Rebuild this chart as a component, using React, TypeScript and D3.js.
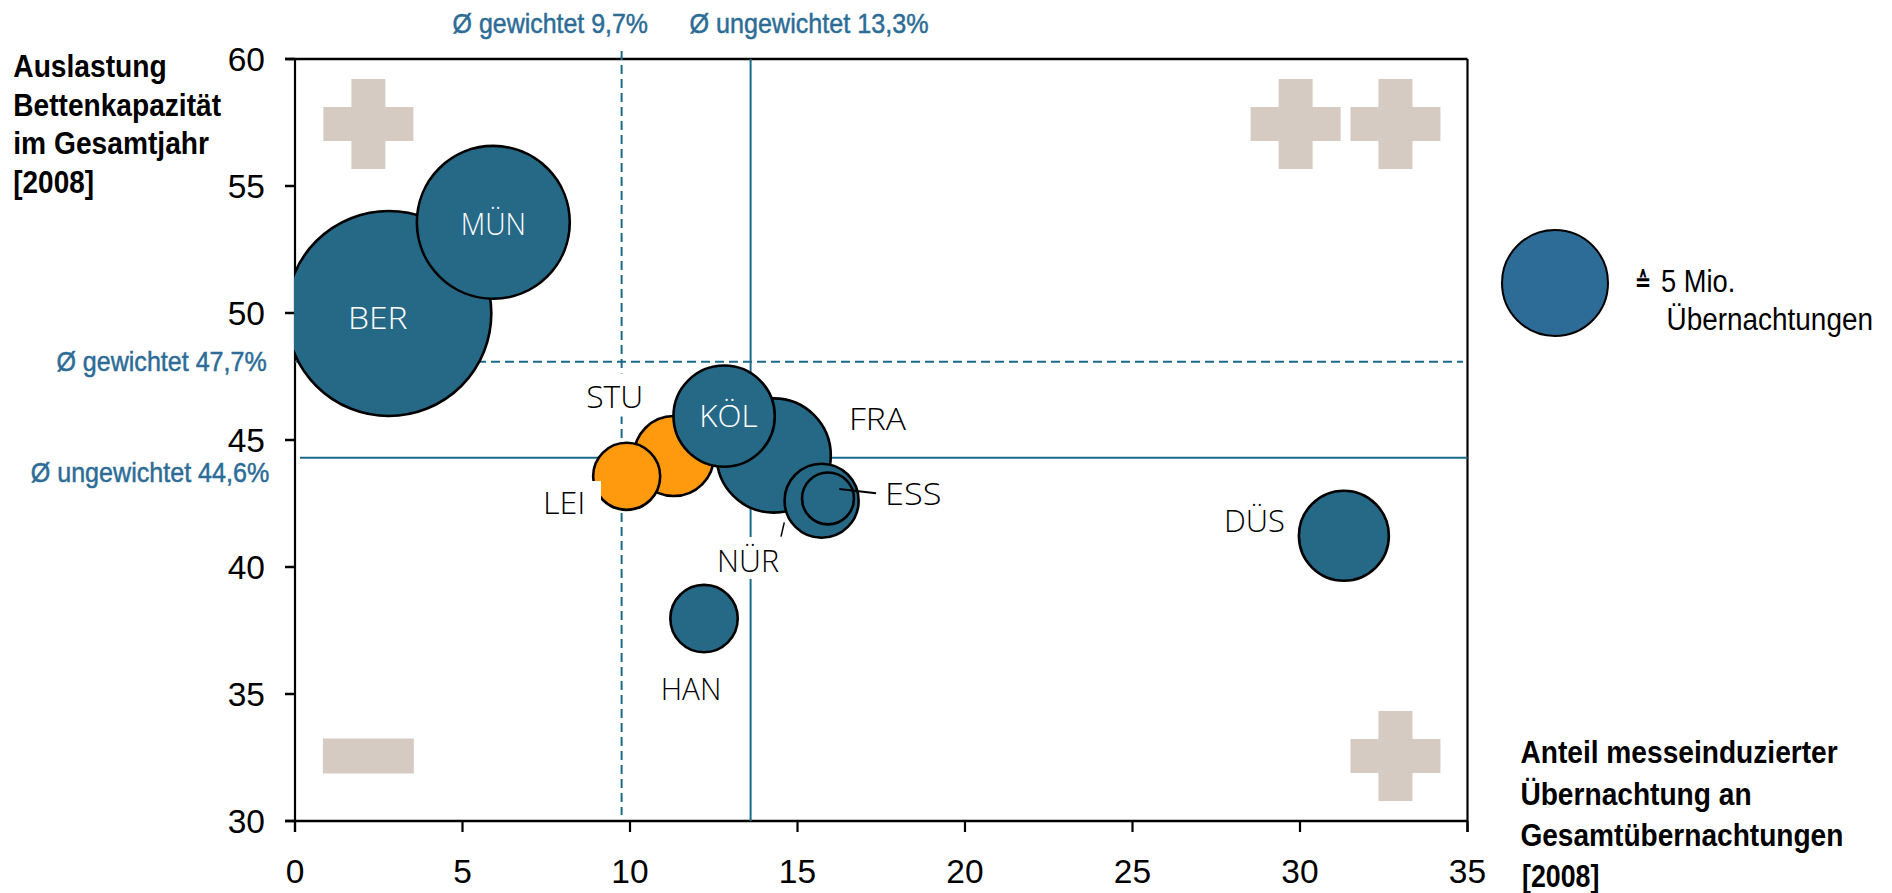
import React from "react";
import * as d3 from "d3";

const bubbleCities = ["BER", "MÜN", "FRA", "STU", "LEI", "KÖL", "NÜR", "ESS", "HAN", "DÜS"];
const bubbleShare = [2.8, 5.92, 14.29, 11.31, 9.9, 12.81, 15.72, 15.91, 12.21, 31.31];
const bubbleLoad = [49.98, 53.57, 44.39, 44.37, 43.57, 45.94, 42.61, 42.7, 37.97, 41.23];
const bubbleNights = [18.7, 10.4, 5.8, 2.85, 2.0, 4.57, 2.44, 1.2, 2.02, 3.6];
const orangeCities = ["STU", "LEI"];
const xTicks = [0, 5, 10, 15, 20, 25, 30, 35];
const yTicks = [30, 35, 40, 45, 50, 55, 60];
const plusMarks = [[2.19, 57.44], [29.87, 57.44], [32.85, 57.44], [32.85, 32.56]];
const minusMarks = [[2.19, 32.56]];
const avgWeighted = { share: 9.75, load: 48.08 };
const avgPlain = { share: 13.6, load: 44.3 };

const cityText: [string, number, number, number][] = [
  ["STU", 586.2, 643.3, 408.3],
  ["FRA", 849, 906, 430],
  ["LEI", 543, 585.5, 514.3],
  ["ESS", 885, 941.5, 505],
  ["NÜR", 717, 779, 571.7],
  ["HAN", 660.7, 721.3, 700],
  ["DÜS", 1224, 1285, 531.7],
];
const cityTextWhite: [string, number, number, number][] = [
  ["BER", 348, 407.5, 329.3],
  ["MÜN", 460.7, 526, 234.7],
  ["KÖL", 699.3, 757.5, 427.3],
];
const titleText: [string, number, number, number][] = [
  ["Auslastung", 13.3, 166.7, 77],
  ["Bettenkapazität", 13.3, 221, 115.7],
  ["im Gesamtjahr", 13.3, 209, 154.3],
  ["[2008]", 13.3, 94, 193],
  ["Anteil messeinduzierter", 1520.4, 1837.7, 763.3],
  ["Übernachtung an", 1520.4, 1751.6, 805],
  ["Gesamtübernachtungen", 1520.4, 1843.4, 846],
  ["[2008]", 1522, 1599.4, 887.3],
];
const avgText: [string, number, number, number][] = [
  ["Ø gewichtet 9,7%", 452.6, 648, 33.3],
  ["Ø ungewichtet 13,3%", 689.5, 928.5, 33.3],
  ["Ø gewichtet 47,7%", 56.4, 266.7, 370.7],
  ["Ø ungewichtet 44,6%", 30.7, 269.3, 482.3],
];
const legendText: [string, number, number, number][] = [
  ["5 Mio.", 1661, 1735.3, 291.7],
  ["Übernachtungen", 1666.5, 1873, 330],
];

const sans = "'Liberation Sans',Arial,sans-serif";
const open = "'Open Sans','Noto Sans',sans-serif";
const teal = "#266987";
const lineTeal = "#1C6A8B";
const labelBlue = "#2C6C96";
const sand = "#D5CBC3";

function Fit({ row }: { row: [string, number, number, number] }) {
  const [s, a, b, base] = row;
  return <text x={a} y={base} textLength={b - a} lengthAdjust="spacingAndGlyphs">{s}</text>;
}

export default function App() {
  const x = d3.scaleLinear().domain([0, 35]).range([295, 1467.5]);
  const y = d3.scaleLinear().domain([30, 60]).range([821, 59]);
  const r = d3.scaleSqrt().domain([0, 5]).range([0, 53]);
  return (
    <svg width={1892} height={893} style={{ position: "absolute", left: 0, top: 0, background: "#fff" }}>
      <defs>
        <clipPath id="plot"><rect x={294} y={40} width={1200} height={800} /></clipPath>
      </defs>
      {plusMarks.map(([a, b], i) => (
        <path key={i} fill={sand} d={`M${x(a) - 17},${y(b) - 45}h34v28h28v34h-28v28h-34v-28h-28v-34h28z`} />
      ))}
      {minusMarks.map(([a, b], i) => (
        <rect key={i} x={x(a) - 45.5} y={y(b) - 17.5} width={91} height={35} fill={sand} />
      ))}
      <line x1={x(0) - 10} x2={x(35)} y1={y(60)} y2={y(60)} stroke="#000" strokeWidth={2.5} />
      <line x1={x(0) - 10} x2={x(35)} y1={y(30)} y2={y(30)} stroke="#000" strokeWidth={2.5} />
      <line x1={x(0)} x2={x(0)} y1={y(60)} y2={y(30) + 11} stroke="#000" strokeWidth={2.2} />
      <line x1={x(35)} x2={x(35)} y1={y(60)} y2={y(30) + 11} stroke="#000" strokeWidth={2.2} />
      {yTicks.map((t) => (
        <g key={t}>
          <line x1={x(0) - 10} x2={x(0)} y1={y(t)} y2={y(t)} stroke="#000" strokeWidth={2.5} />
          <text x={265} y={y(t) + 12} fontFamily={sans} fontSize={33.5} textAnchor="end">{t}</text>
        </g>
      ))}
      {xTicks.map((t) => (
        <g key={t}>
          <line x1={x(t)} x2={x(t)} y1={y(30)} y2={y(30) + 11} stroke="#000" strokeWidth={2.2} />
          <text x={x(t)} y={883} fontFamily={sans} fontSize={33.5} textAnchor="middle">{t}</text>
        </g>
      ))}
      <line x1={x(avgWeighted.share)} x2={x(avgWeighted.share)} y1={51} y2={815} stroke={lineTeal} strokeWidth={2} strokeDasharray="9 5" />
      <line x1={x(avgPlain.share)} x2={x(avgPlain.share)} y1={59} y2={821} stroke={lineTeal} strokeWidth={2} />
      <line x1={x(0)} x2={1463} y1={y(avgWeighted.load)} y2={y(avgWeighted.load)} stroke={lineTeal} strokeWidth={2} strokeDasharray="9 5" />
      <line x1={300} x2={x(35)} y1={y(avgPlain.load)} y2={y(avgPlain.load)} stroke={lineTeal} strokeWidth={2} />
      <rect x={590} y={373.5} width={60} height={43} fill="#fff" />
      <rect x={710} y={537} width={80} height={42} fill="#fff" />
      <g clipPath="url(#plot)">
        {bubbleCities.map((c, i) => (
          <circle key={c} cx={x(bubbleShare[i])} cy={y(bubbleLoad[i])} r={r(bubbleNights[i])}
            fill={orangeCities.includes(c) ? "#FF990E" : teal} stroke="#000" strokeWidth={2.6} />
        ))}
      </g>
      <rect x={540} y={481} width={61} height={50} fill="#fff" />
      <line x1={839.3} x2={876} y1={489} y2={493.3} stroke="#000" strokeWidth={2} />
      <line x1={784.3} x2={781} y1={522.3} y2={536.7} stroke="#000" strokeWidth={1.5} />
      <g fontFamily={open} fontWeight={300} fontSize={32} fill="#fff">
        {cityTextWhite.map((row) => <Fit key={row[0]} row={row} />)}
      </g>
      <g fontFamily={open} fontWeight={300} fontSize={32} fill="#000">
        {cityText.map((row) => <Fit key={row[0]} row={row} />)}
      </g>
      <g fontFamily={sans} fontWeight={700} fontSize={31} fill="#000">
        {titleText.map((row, i) => <Fit key={i} row={row} />)}
      </g>
      <g fontFamily={sans} fontSize={28} fill={labelBlue} stroke={labelBlue} strokeWidth={0.5}>
        {avgText.map((row) => <Fit key={row[0]} row={row} />)}
      </g>
      <circle cx={1555} cy={283} r={r(5)} fill="#2C6C96" stroke="#000" strokeWidth={2} />
      <g fontFamily={sans} fontSize={31} fill="#000">
        {legendText.map((row) => <Fit key={row[0]} row={row} />)}
      </g>
      <text x={1634.7} y={291} textLength={16.5} lengthAdjust="spacingAndGlyphs" fontFamily="'DejaVu Sans'" fontWeight={700} fontSize={26} fill="#000">≙</text>
    </svg>
  );
}
